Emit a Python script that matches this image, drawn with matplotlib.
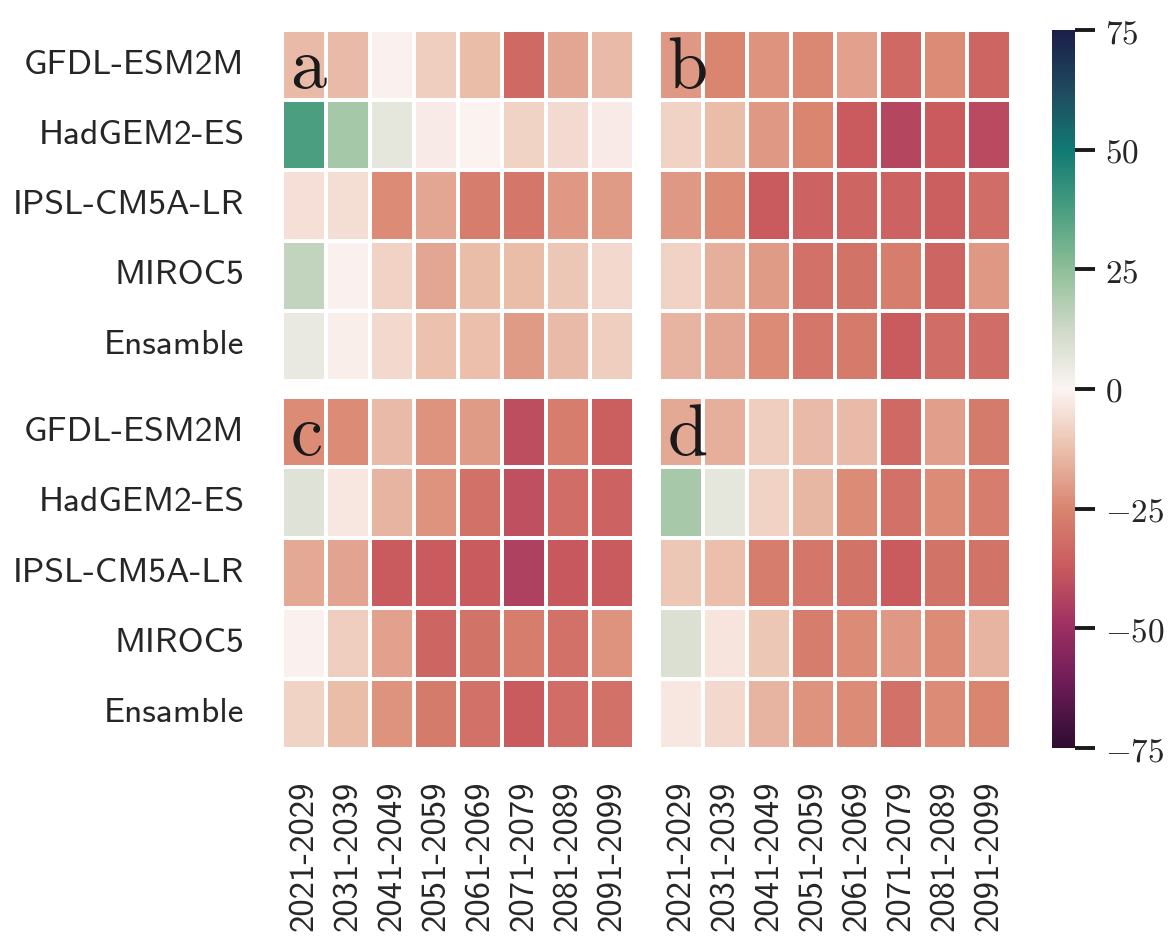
import numpy as np
import matplotlib
matplotlib.use('Agg')
import matplotlib.pyplot as plt
from matplotlib.colors import LinearSegmentedColormap
import seaborn as sns

# row / column names
models = ['GFDL-ESM2M', 'HadGEM2-ES', 'IPSL-CM5A-LR', 'MIROC5', 'Ensamble']
decades = ['2021-2029', '2031-2039', '2041-2049', '2051-2059',
           '2061-2069', '2071-2079', '2081-2089', '2091-2099']

# values (one row per model)
panel_a = [[-14, -14, -1, -9, -13, -33, -18, -14],
           [37, 21, 6, -2, -0.5, -8, -6, -2],
           [-5, -5.5, -24, -18, -27, -29, -21, -20],
           [15, -1, -8, -18, -13, -13, -11, -7],
           [5, -1.5, -7, -12, -12.5, -20, -14, -9]]
panel_b = [[-21, -25, -22, -24.5, -19, -33, -23.5, -34],
           [-8, -13, -21, -25, -37, -43, -37, -42],
           [-21, -24, -37, -35, -34, -35, -36, -32],
           [-8, -16, -20, -31, -30, -27, -34, -21],
           [-15, -18, -24, -29, -28, -37, -32, -32]]
panel_c = [[-24, -23.5, -14, -22, -20.5, -41, -27, -36],
           [8, -3, -15, -22, -31, -40, -32, -35],
           [-17, -18.5, -37, -37, -37.5, -45, -38, -37.5],
           [-1, -9, -19, -34, -30, -27, -31, -22],
           [-8, -13, -22, -28, -31, -37, -32, -31]]
panel_d = [[-17, -16, -9, -14, -14, -33, -19.5, -28],
           [20, 6, -8, -14.5, -24, -31, -24, -27],
           [-11, -12.5, -27.5, -29, -30, -37, -30, -30],
           [9, -4, -11, -27, -24, -21, -24, -15],
           [-3, -7, -15, -22, -23.5, -31, -24, -25]]

cbar_ticks = [-75, -50, -25, 0, 25, 50, 75]

plt.rcParams['mathtext.fontset'] = 'cm'

# roughly cmocean "curl", reversed (green = positive, red = negative)
curl_r = LinearSegmentedColormap.from_list('curl_r', [
    '#2e0d30', '#6a1a55', '#9c2f62', '#c95a5e', '#d98570', '#ebc0ad',
    '#fbf4f2', '#cfd9c8', '#8fbf98', '#4a9e80', '#117a73', '#1f4a5e', '#1a1f4a'])

fig = plt.figure(figsize=(11.7, 9.36), dpi=100)
W, H = 1170.0, 936.0

def box(x0, y0, x1, y1):
    return [x0 / W, 1 - y1 / H, (x1 - x0) / W, (y1 - y0) / H]

panels = [('a', panel_a, box(282, 30, 634, 381), True, False),
          ('b', panel_b, box(659, 30, 1011, 381), False, False),
          ('c', panel_c, box(282, 397, 634, 749), True, True),
          ('d', panel_d, box(659, 397, 1011, 749), False, True)]

for letter, vals, pos, show_y, show_x in panels:
    ax = fig.add_axes(pos)
    sns.heatmap(np.array(vals), ax=ax, cmap=curl_r, vmin=-75, vmax=75, cbar=False,
                linewidths=1.5, linecolor='white',
                xticklabels=decades if show_x else False,
                yticklabels=models if show_y else False)
    ax.tick_params(length=0)
    if show_y:
        ax.set_yticklabels(models, rotation=0, fontfamily='cmss10', fontsize=25.5,
                           color='#262626')
        ax.tick_params(axis='y', pad=27)
    if show_x:
        ax.set_xticklabels(decades, rotation=90, fontfamily='cmss10', fontsize=25,
                           color='#262626')
        ax.tick_params(axis='x', pad=23)
    ax.text(0.022, 0.835, r'$\mathrm{%s}$' % letter, transform=ax.transAxes,
            fontsize=52, color='#1a1a1a')
    mesh = ax.collections[0]

cax = fig.add_axes(box(1052, 30, 1075, 748))
cb = fig.colorbar(mesh, cax=cax, ticks=cbar_ticks)
cb.outline.set_visible(False)
cb.set_ticklabels([r'$%d$' % t for t in cbar_ticks])
cax.tick_params(length=14.5, width=2.8, color='#1a1a1a', pad=7, labelsize=24,
                labelcolor='#262626')

fig.savefig('out.png', dpi=100)
